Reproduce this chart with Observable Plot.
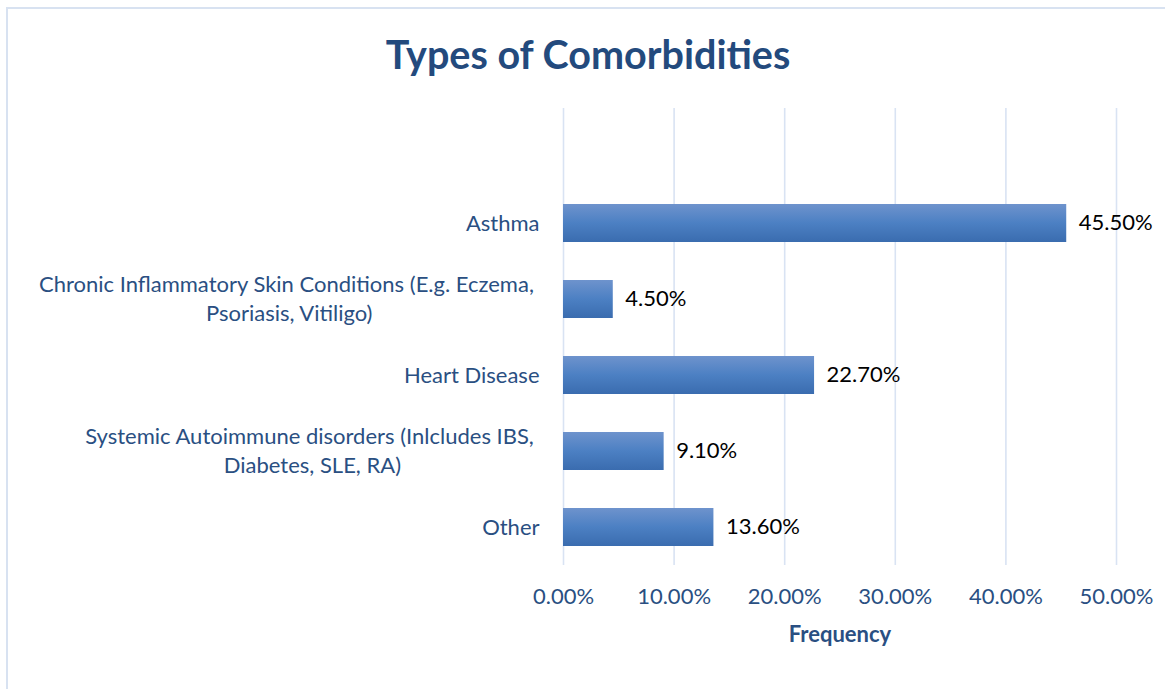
<!DOCTYPE html>
<html>
<head>
<meta charset="utf-8">
<script src="https://cdn.jsdelivr.net/npm/d3@7"></script>
<script src="https://cdn.jsdelivr.net/npm/@observablehq/plot@0.6"></script>
<style>
  body { margin: 0; background: #fff; }
  #wrap { position: relative; width: 1165px; height: 689px; overflow: hidden; font-family: Lato, "Open Sans", sans-serif; }
  #chart { position: absolute; left: 0; top: 0; }
  #frame { position: absolute; left: 6px; top: 7px; width: 1300px; height: 700px;
           border-left: 2px solid #D8E2F1; border-top: 2px solid #D8E2F1; pointer-events: none; }
  #title { position: absolute; left: 0; top: 34px; width: 1176px; text-align: center;
           font-size: 39.5px; line-height: 1; font-weight: 700; color: #234A7D; }
</style>
</head>
<body>
<div id="wrap">
  <div id="chart"></div>
  <div id="frame"></div>
  <div id="title">Types of Comorbidities</div>
</div>
<script>
// Comorbidity categories (top to bottom) and their share of respondents
const categories = [
  "Asthma",
  "Chronic Inflammatory Skin Conditions (E.g. Eczema, \nPsoriasis, Vitiligo)",
  "Heart Disease",
  "Systemic Autoimmune disorders (Inlcludes IBS, \nDiabetes, SLE, RA)",
  "Other"
];
const frequencies = [0.455, 0.045, 0.227, 0.091, 0.136];
const xTicks = [0, 0.1, 0.2, 0.3, 0.4, 0.5];
const axisTitle = "Frequency";

const rows = categories.map((c, i) => ({category: c, value: frequencies[i]}));
const labelColor = "#2A4F82";
const fontSize = 22;

const chart = Plot.plot({
  width: 1165,
  height: 689,
  marginLeft: 563,
  marginRight: 49,
  marginTop: 108,
  marginBottom: 124,
  style: {fontFamily: "Lato, 'Open Sans', sans-serif", fontSize: fontSize + "px", color: labelColor, background: "transparent", overflow: "visible"},
  x: {domain: [0, 0.5], ticks: xTicks, tickFormat: d3.format(".2%")},
  y: {domain: categories, insetTop: 76, paddingInner: 0.5, paddingOuter: 0.25},
  marks: [
    Plot.ruleX(xTicks, {stroke: "#D9E3F3", strokeWidth: 1.6}),
    Plot.barX(rows, {x: "value", y: "category", fill: "url(#barFill)"}),
    Plot.text(rows, {x: "value", y: "category", text: d => d3.format(".2%")(d.value),
      textAnchor: "start", dx: 12, dy: -1, fill: "#000", fontSize}),
    Plot.axisX({ticks: xTicks, tickFormat: d3.format(".2%"), tickSize: 0, tickPadding: 23,
      fontSize, label: null}),
    Plot.axisY({tickSize: 0, tickPadding: 24, textAnchor: "middle", lineHeight: 1.32, dy: -2,
      fontSize, label: null}),
    Plot.text([axisTitle], {frameAnchor: "bottom", dy: 69, lineAnchor: "middle",
      fontWeight: "bold", fontSize, fill: labelColor})
  ]
});

document.getElementById("chart").append(chart);

// Vertical gradient used by the bars
const ns = "http://www.w3.org/2000/svg";
const defs = document.createElementNS(ns, "defs");
const grad = document.createElementNS(ns, "linearGradient");
grad.setAttribute("id", "barFill");
grad.setAttribute("x1", "0"); grad.setAttribute("y1", "0");
grad.setAttribute("x2", "0"); grad.setAttribute("y2", "1");
[["0%", "#6E93CD"], ["50%", "#4C80C3"], ["100%", "#3A6CAF"]].forEach(([o, c]) => {
  const s = document.createElementNS(ns, "stop");
  s.setAttribute("offset", o); s.setAttribute("stop-color", c);
  grad.append(s);
});
defs.append(grad);
chart.prepend(defs);

// Category labels: lines centred within a block whose right edge sits at the axis
chart.querySelectorAll('[aria-label="y-axis tick label"] text').forEach(t => {
  t.style.whiteSpace = "pre";
  const w = t.getBBox().width;
  const tr = t.getAttribute("transform") || "";
  t.setAttribute("transform", tr + ` translate(${-w / 2},0)`);
});
</script>
</body>
</html>
